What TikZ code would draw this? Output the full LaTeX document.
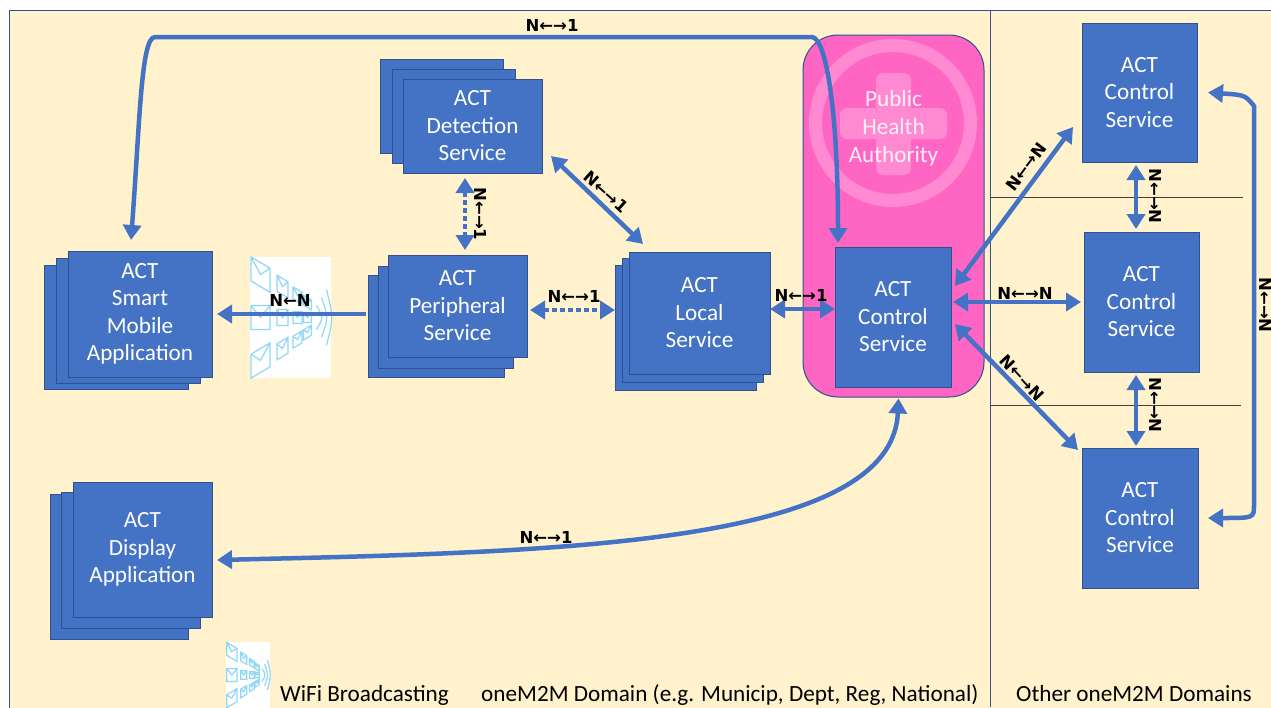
\documentclass[tikz,border=0pt]{standalone}
\usepackage{fontspec}
\setmainfont{Carlito}
\newfontfamily\lblfont{DejaVu Sans}
\usetikzlibrary{arrows.meta}
\definecolor{creamc}{HTML}{FFF2CC}
\definecolor{bluec}{HTML}{4472C4}
\definecolor{edgec}{HTML}{2F528F}
\definecolor{pinkc}{HTML}{FF66C4}
\definecolor{ringc}{HTML}{FF8AD2}
\definecolor{iconc}{HTML}{8FD8F5}
\tikzset{
  pics/wifiicon/.style={code={
    \fill[white] (-40.5,-60.5) rectangle (40.5,60.5);
    \foreach \cx/\wd/\ht/\dy in {-30/9.5/12/43,-8/5.5/8/31,7/4.5/6/22,17/4/5/15}
      \foreach \row in {-1,0,1}{
        \pgfmathsetmacro\cy{\row*\dy}
        \pgfmathsetmacro\sk{-\row*\wd*0.6}
        \draw[iconc,line width=1.2pt]
          (\cx-\wd,\cy-\ht-\sk) -- (\cx+\wd,\cy-\ht+\sk) -- (\cx+\wd,\cy+\ht+\sk)
          -- (\cx-\wd,\cy+\ht-\sk) -- cycle
          (\cx-\wd,\cy-\ht-\sk) -- (\cx,\cy) -- (\cx+\wd,\cy-\ht+\sk);
      }
    \foreach \ax/\hh in {26/12,31/20,36/28}
      \draw[iconc,line width=1.2pt] (\ax,-\hh) .. controls (\ax+7,0) .. (\ax,\hh);
  }}
}
\begin{document}
\begin{tikzpicture}[x=1pt,y=-1pt]
  \tikzstyle{boxn}=[rectangle,draw=edgec,line width=0.8pt,fill=bluec,text=white,inner sep=0,outer sep=0,align=center,font=\fontsize{23.2}{27.5}\selectfont]
  \tikzstyle{lbln}=[text=black,inner sep=0,font=\lblfont\bfseries\fontsize{16.5}{18}\selectfont]
  \tikzstyle{txtn}=[text=black,inner sep=0,anchor=base west,font=\fontsize{23.2}{26}\selectfont]
  \tikzstyle{arrn}=[draw=bluec,line width=4.5pt,{Triangle[width=18pt,length=15pt]}-{Triangle[width=18pt,length=15pt]}]
  \tikzstyle{dotn}=[arrn,dash pattern=on 4.5pt off 3.5pt]
  \useasboundingbox (0,0) rectangle (1271,707);
  \fill[white] (0,0) rectangle (1271,707);
  \filldraw[fill=creamc,draw=edgec,line width=1pt] (9,10) rectangle (1274,710);
  \draw[edgec,line width=1pt] (990,10) -- (990,707);
  \draw[black!75,line width=0.6pt] (990,197) -- (1243,197);
  \draw[black!75,line width=0.6pt] (990,405) -- (1241,405);

  \node (pha) [rectangle,rounded corners=35pt,draw=edgec,line width=1pt,fill=pinkc,minimum width=181pt,minimum height=362pt,inner sep=0] at (893.5,216) {};
  \draw[ringc,line width=13pt] (893,123) circle (77.5);
  \fill[ringc,rounded corners=7pt] (840,108) rectangle (947,139);
  \fill[ringc,rounded corners=7pt] (876,73) rectangle (911,175);
  \node (phatxt) [inner sep=0,text=white!90!pinkc,align=center,font=\fontsize{23.2}{28}\selectfont] at (893.5,128) {Public\\Health\\Authority};

  \node (detect2) [boxn,minimum width=123pt,minimum height=94pt] at (441.5,106) {};
  \node (detect1) [boxn,minimum width=123pt,minimum height=94pt] at (453.5,116) {};
  \node (detect) [boxn,minimum width=139pt,minimum height=94pt] at (472.5,126) {ACT\\Detection\\Service};

  \node (smart2) [boxn,minimum width=144pt,minimum height=124pt] at (116,327) {};
  \node (smart1) [boxn,minimum width=144pt,minimum height=125pt] at (128,320.5) {};
  \node (smart) [boxn,minimum width=144pt,minimum height=126pt] at (140,314) {ACT\\Smart\\Mobile\\Application};

  \node (periph2) [boxn,minimum width=136pt,minimum height=102pt] at (436,326) {};
  \node (periph1) [boxn,minimum width=135pt,minimum height=102pt] at (445.5,317) {};
  \node (periph) [boxn,minimum width=139pt,minimum height=102pt] at (457.5,306) {ACT\\Peripheral\\Service};

  \node (local2) [boxn,minimum width=141pt,minimum height=125pt] at (685.5,327.5) {};
  \node (local1) [boxn,minimum width=141pt,minimum height=124pt] at (692.5,320) {};
  \node (local) [boxn,minimum width=141pt,minimum height=122pt] at (699.5,313) {ACT\\Local\\Service};

  \node (disp2) [boxn,minimum width=138pt,minimum height=145pt] at (119,566.5) {};
  \node (disp1) [boxn,minimum width=139pt,minimum height=136pt] at (130.5,560) {};
  \node (disp) [boxn,minimum width=139pt,minimum height=135pt] at (142.5,549.5) {ACT\\Display\\Application};

  \node (ctrl) [boxn,minimum width=116pt,minimum height=140pt] at (893,317) {ACT\\Control\\Service};
  \node (ctrla) [boxn,minimum width=115pt,minimum height=139pt] at (1139.5,92.5) {ACT\\Control\\Service};
  \node (ctrlb) [boxn,minimum width=115pt,minimum height=140pt] at (1141.5,302) {ACT\\Control\\Service};
  \node (ctrlc) [boxn,minimum width=116pt,minimum height=140pt] at (1140,518) {ACT\\Control\\Service};

  \pic at (290.5,317.5) {wifiicon};
  \pic[scale=0.54] at (248,675) {wifiicon};

  \draw[arrn] ([xshift=-9pt,yshift=11pt]smart.north) .. controls (140,120) and (141,37) .. (155,37) -- (812,37) .. controls (826,38) and (838,110) .. ([xshift=-55pt,yshift=4pt]ctrl.north);
  \draw[dotn,shorten <=5pt,shorten >=5pt] ([xshift=-7.5pt]detect.south) -- ([xshift=7.5pt]periph.north);
  \draw[arrn] ([xshift=9pt,yshift=17pt]detect.south east) -- ([xshift=-56.5pt,yshift=8pt]local.north);
  \draw[dotn,shorten <=3pt] ([yshift=-4pt]periph.east) -- ([yshift=17.5pt]local2.west);
  \draw[arrn,-{Triangle[width=18pt,length=15pt]},shorten <=2pt,shorten >=5pt] ([yshift=12pt]periph2.west) -- (smart.east);
  \draw[arrn] ([yshift=4pt]local.east) -- ([yshift=8pt]ctrl.west);
  \draw[arrn,shorten <=2pt,shorten >=3pt] ([yshift=15pt]ctrl.east) -- (ctrlb.west);
  \draw[arrn] ([xshift=4pt,yshift=31pt]ctrl.east) -- ([xshift=-9pt,yshift=-34.5pt]ctrla.west);
  \draw[arrn] ([xshift=4pt,yshift=-7pt]ctrl.east) -- ([xshift=-4pt,yshift=68pt]ctrlc.west);
  \draw[arrn,shorten <=3pt,shorten >=3pt] ([xshift=-3.5pt]ctrla.south) -- ([xshift=-5.5pt]ctrlb.north);
  \draw[arrn,shorten <=3pt,shorten >=2pt] ([xshift=-5.5pt]ctrlb.south) -- ([xshift=-4pt]ctrlc.north);
  \draw[arrn] ([xshift=11pt]ctrla.east) .. controls (1245,95) .. (1254,106) -- (1254,505) .. controls (1254,518) .. ([xshift=10pt]ctrlc.east);
  \draw[arrn] ([xshift=5pt,yshift=-10.5pt]disp.east) .. controls (560,552) and (892,545) .. ([xshift=5pt,yshift=-1pt]pha.south);

  \node (ltop) [lbln] at (552,25) {N←→1};
  \node (ldetper) [lbln,rotate=-90] at (481,214) {N←→1};
  \node (ldetloc) [lbln,rotate=-42] at (606,192) {N←→1};
  \node (lperloc) [lbln] at (574,296) {N←→1};
  \node (lsmart) [lbln] at (290,300) {N←N};
  \node (lloc) [lbln] at (801,295) {N←→1};
  \node (lctrlb) [lbln] at (1025,293) {N←→N};
  \node (lctrla) [lbln,rotate=53] at (1026,167) {N←→N};
  \node (lctrlc) [lbln,rotate=-47] at (1022,378) {N←→N};
  \node (lab) [lbln,rotate=-90] at (1155,196) {N←→N};
  \node (lbc) [lbln,rotate=-90] at (1155,405) {N←→N};
  \node (lac) [lbln,rotate=-90] at (1265,305) {N←→N};
  \node (ldisp) [lbln] at (546,537) {N←→1};

  \node (twifi) [txtn] at (280,701) {WiFi Broadcasting};
  \node (tdom) [txtn] at (481,701) {oneM2M Domain (e.g. Municip, Dept, Reg, National)};
  \node (tother) [txtn] at (1016,701) {Other oneM2M Domains};
\end{tikzpicture}
\end{document}
